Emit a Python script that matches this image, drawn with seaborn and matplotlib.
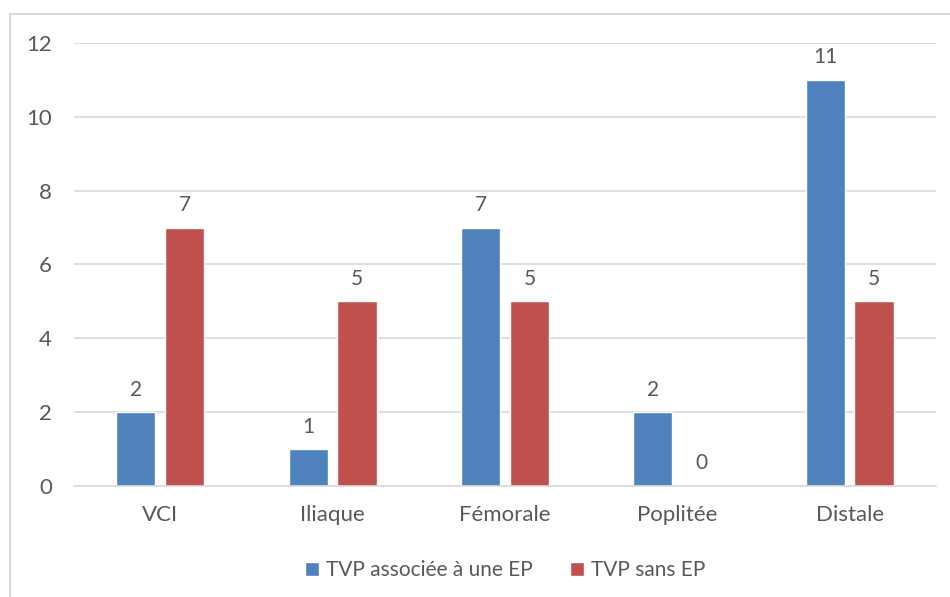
import pandas as pd
import numpy as np
import matplotlib
matplotlib.use("Agg")
import matplotlib.pyplot as plt
import seaborn as sns
from matplotlib.patches import Rectangle

categories = ["VCI", "Iliaque", "Fémorale", "Poplitée", "Distale"]
avec_ep = [2, 1, 7, 2, 11]
sans_ep = [7, 5, 5, 0, 5]
series = ["TVP associée à une EP", "TVP sans EP"]
colors = ["#4F81BD", "#C0504D"]

df = pd.DataFrame({
    "site": categories * 2,
    "n": avec_ep + sans_ep,
    "groupe": [series[0]] * len(categories) + [series[1]] * len(categories),
})

sns.set_style("white")
plt.rcParams["font.family"] = ["Lato", "DejaVu Sans"]
txt = "#595959"
grid = "#D9D9D9"

fig = plt.figure(figsize=(9.5, 5.97), dpi=100)
ax = fig.add_axes([0.078, 0.186, 0.907, 0.742])

sns.barplot(data=df, x="site", y="n", hue="groupe", palette=colors,
            width=0.568, gap=0.2, ax=ax, saturation=1)

for c in ax.containers:
    ax.bar_label(c, padding=9, fontsize=15, color=txt)

ax.set_ylim(0, 12)
ax.set_yticks(np.arange(0, 13, 2))
ax.set_xlim(-0.5, 4.5)
ax.set_xlabel("")
ax.set_ylabel("")
ax.yaxis.grid(True, color=grid, linewidth=1.2)
ax.set_axisbelow(True)
for s in ["top", "right", "left"]:
    ax.spines[s].set_visible(False)
ax.spines["bottom"].set_color(grid)
ax.spines["bottom"].set_linewidth(1.2)
ax.tick_params(axis="both", length=0, labelsize=16, labelcolor=txt)
ax.tick_params(axis="y", pad=16)
ax.tick_params(axis="x", pad=14)

leg = ax.legend(loc="center", bbox_to_anchor=(0.5, -0.19), ncol=2, frameon=False,
                fontsize=15, handlelength=0.7, handleheight=0.7,
                handletextpad=0.3, columnspacing=1.8)
for t in leg.get_texts():
    t.set_color(txt)

fig.patches.append(Rectangle((10 / 950, -0.1), 1.2, 1 - 14 / 597 + 0.1,
                             transform=fig.transFigure, fill=False,
                             edgecolor=grid, linewidth=1.5, figure=fig))

fig.savefig("out.png", dpi=100)
